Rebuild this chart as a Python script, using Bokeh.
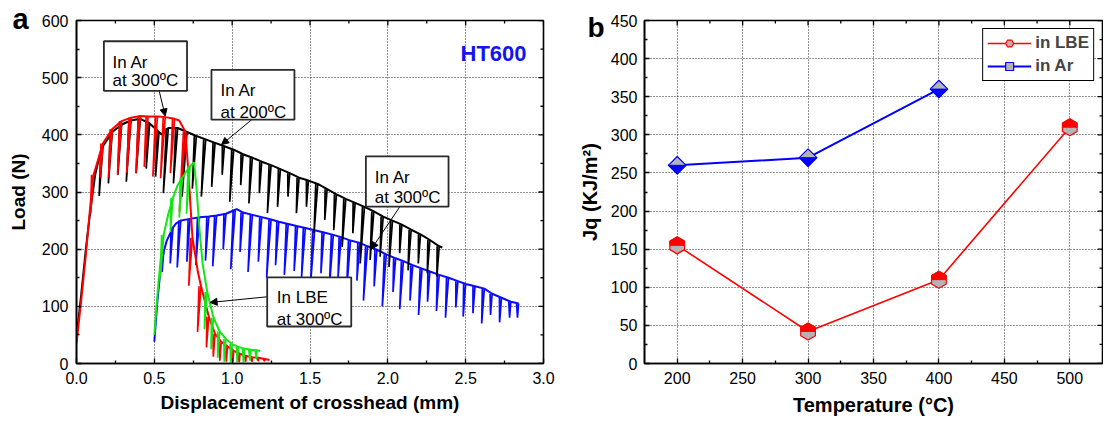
import math
from bokeh.plotting import figure
from bokeh.models import (Range1d, FixedTicker, BoxAnnotation, Label,
                          Arrow, NormalHead, Legend, LegendItem, NumeralTickFormatter)
from bokeh.layouts import row
from bokeh.embed import file_html
from bokeh.resources import INLINE

# ---------------- Panel a data: load vs crosshead displacement ----------------
black_curve_x = [0.0, 0.03, 0.06, 0.09, 0.12, 0.15, 0.55, 2.35]
black_curve_y = [45, 120, 200, 270, 330, 365, 400, 203]
black_tooth_x = [0.17, 0.23, 0.29, 0.35, 0.41, 0.47, 0.53, 0.59, 0.65, 0.71, 0.77, 0.83, 0.89,
                 0.95, 1.01, 1.07, 1.13, 1.19, 1.25, 1.31, 1.37, 1.43, 1.49, 1.55, 1.61, 1.67,
                 1.73, 1.79, 1.85, 1.91, 1.97, 2.03, 2.09, 2.15, 2.21, 2.27, 2.33]
black_tooth_top = [380, 405, 418, 425, 428, 420, 405, 412, 412, 405, 398, 392, 386,
                   380, 374, 366, 360, 353, 347, 340, 333, 325, 320, 314, 305, 296,
                   288, 281, 274, 266, 257, 250, 243, 234, 226, 216, 205]
black_tooth_bot = [293, 315, 330, 318, 333, 341, 327, 298, 315, 292, 306, 292, 309,
                   330, 283, 312, 280, 298, 263, 274, 292, 263, 274, 228, 251, 233,
                   204, 228, 175, 181, 187, 169, 193, 163, 175, 158, 152]

red_curve_x = [0.0, 0.03, 0.06, 0.08, 0.10, 0.66, 0.72, 0.78, 1.24]
red_curve_y = [35, 110, 190, 250, 310, 425, 330, 160, 6]
red_tooth_x = [0.11, 0.17, 0.23, 0.29, 0.35, 0.41, 0.46, 0.52, 0.57, 0.63, 0.70, 0.745,
               0.80, 0.85, 0.89, 0.93, 0.97, 1.01, 1.05, 1.09, 1.13, 1.17, 1.21]
red_tooth_top = [330, 385, 410, 424, 430, 433, 432, 432, 431, 428, 405, 220,
                 135, 82, 52, 38, 30, 22, 17, 13, 11, 10, 8]
red_tooth_bot = [262, 325, 325, 330, 333, 333, 344, 327, 324, 333, 265, 136,
                 55, 28, 12, 5, 3, 2, 2, 3, 3, 4, 4]

green_curve_x = [0.50, 0.52, 0.54, 0.59, 0.65, 0.71, 0.755, 0.77, 0.79, 0.81, 1.18]
green_curve_y = [50, 120, 180, 262, 312, 338, 352, 310, 235, 175, 22]
green_tooth_x = [0.56, 0.62, 0.68, 0.73, 0.84, 0.88, 0.92, 0.96, 1.00, 1.04, 1.08, 1.12, 1.16]
green_tooth_top = [225, 290, 325, 345, 125, 80, 56, 43, 34, 29, 26, 24, 23]
green_tooth_bot = [150, 230, 255, 262, 60, 25, 10, 3, 0, 2, 0, 5, 8]

blue_curve_x = [0.50, 0.52, 0.54, 0.58, 0.64, 1.03]
blue_curve_y = [38, 110, 165, 215, 245, 270]
blue_tooth_x = [0.56, 0.62, 0.67, 0.73, 0.79, 0.85, 0.90, 0.96, 1.02, 1.07, 1.13, 1.19, 1.25,
                1.30, 1.36, 1.42, 1.47, 1.53, 1.59, 1.65, 1.70, 1.76, 1.82, 1.87, 1.93, 1.99,
                2.05, 2.10, 2.16, 2.22, 2.27, 2.33, 2.39, 2.45, 2.50, 2.56, 2.62, 2.67, 2.73,
                2.79, 2.84]
blue_tooth_top = [195, 238, 250, 253, 256, 257, 259, 262, 269, 264, 260, 256, 252,
                  248, 244, 240, 237, 233, 229, 225, 221, 215, 211, 205, 199, 191,
                  184, 179, 172, 166, 161, 155, 150, 144, 139, 135, 131, 122, 115,
                  108, 105]
blue_tooth_bot = [160, 175, 168, 178, 172, 180, 170, 200, 165, 195, 160, 178, 150,
                  172, 155, 162, 150, 140, 158, 135, 150, 122, 145, 110, 135, 100,
                  125, 95, 110, 85, 108, 92, 80, 98, 82, 88, 70, 85, 72,
                  80, 80]

xa_major = [0.0, 0.5, 1.0, 1.5, 2.0, 2.5, 3.0]
xa_minor = [0.25, 0.75, 1.25, 1.75, 2.25, 2.75]
ya_major = [0, 100, 200, 300, 400, 500, 600]
ya_minor = [50, 150, 250, 350, 450, 550]

# ---------------- Panel b data: Jq vs temperature ----------------
temp_lbe = [200, 300, 400, 500]
jq_lbe = [155, 42, 110, 310]
temp_ar = [200, 300, 400]
jq_ar = [260, 270, 360]

xb_major = [200, 250, 300, 350, 400, 450, 500]
xb_minor = [225, 275, 325, 375, 425, 475]
yb_major = [0, 50, 100, 150, 200, 250, 300, 350, 400, 450]
yb_minor = [25, 75, 125, 175, 225, 275, 325, 375, 425]

FONT = "Liberation Sans"
MAJ_LEN, MIN_LEN = 5, 3


def style_axis(ax, major, minor, standoff, fmt=None):
    ax.ticker = FixedTicker(ticks=major, minor_ticks=minor)
    ax.axis_line_color = "black"
    ax.axis_line_width = 1.6
    ax.major_tick_in = MAJ_LEN
    ax.major_tick_out = 0
    ax.minor_tick_in = MIN_LEN
    ax.minor_tick_out = 0
    ax.major_tick_line_width = 1.3
    ax.minor_tick_line_width = 1.3
    ax.major_tick_line_color = "black"
    ax.minor_tick_line_color = "black"
    ax.major_label_text_font = FONT
    ax.major_label_text_color = "black"
    ax.major_label_text_font_size = "16px"
    ax.major_label_standoff = standoff
    if fmt is not None:
        ax.formatter = fmt


def style_label(ax, text, size, standoff):
    ax.axis_label = text
    ax.axis_label_text_font = FONT
    ax.axis_label_text_font_style = "bold"
    ax.axis_label_text_font_size = size
    ax.axis_label_text_color = "black"
    ax.axis_label_standoff = standoff


def make_fig(w, h, xr, yr, bl, br, bt, bb, letter, offset, standoff, size):
    p = figure(width=w, height=h, x_range=xr, y_range=yr, title=letter,
               output_backend="svg", toolbar_location=None,
               min_border_left=bl, min_border_right=br, min_border_top=bt,
               min_border_bottom=bb, background_fill_color="white",
               border_fill_color="white", outline_line_color="black",
               outline_line_width=1.6)
    # panel letter, drawn as the figure title in the top-left corner
    p.title.align = "left"
    p.title.offset = offset
    p.title.standoff = standoff
    p.title.text_font = FONT
    p.title.text_font_size = size
    p.title.text_font_style = "bold"
    p.title.text_color = "black"
    return p


def style_grid(p, xt, yt):
    for g in (p.xgrid[0], p.ygrid[0]):
        g.grid_line_color = "black"
        g.grid_line_dash = "1 2"
        g.grid_line_width = 1
        g.grid_line_alpha = 0.85
    p.xgrid[0].ticker = FixedTicker(ticks=xt)
    p.ygrid[0].ticker = FixedTicker(ticks=yt)


def mirror_ticks(p, x1, y1, dxp, dyp, xmaj, xmin, ymaj, ymin):
    """Inward ticks on the top and right frame edges (no labels)."""
    sx0, sy0, sx1, sy1 = [], [], [], []
    for ticks, ln in ((xmaj, MAJ_LEN), (xmin, MIN_LEN)):
        for t in ticks:
            sx0.append(t); sx1.append(t); sy0.append(y1); sy1.append(y1 - ln * dyp)
    for ticks, ln in ((ymaj, MAJ_LEN), (ymin, MIN_LEN)):
        for t in ticks:
            sy0.append(t); sy1.append(t); sx0.append(x1); sx1.append(x1 - ln * dxp)
    p.segment(sx0, sy0, sx1, sy1, line_color="black", line_width=1.3)


# ================= Panel a =================
FWA, FHA = 467, 343
pa = make_fig(76 + FWA + 32, 20 + FHA + 57, Range1d(0, 3), Range1d(0, 600),
              76, 32, 20, 57, "a", -64, -28, "29px")
style_axis(pa.xaxis[0], xa_major, xa_minor, 8, fmt=NumeralTickFormatter(format="0.0"))
style_axis(pa.yaxis[0], ya_major, ya_minor, 8)
style_label(pa.xaxis[0], "Displacement of crosshead (mm)", "19px", 5)
style_label(pa.yaxis[0], "Load (N)", "19px", 10)
style_grid(pa, xa_major, ya_major)
mirror_ticks(pa, 3, 600, 3 / FWA, 600 / FHA, xa_major, xa_minor, ya_major, ya_minor)

SLANT = 0.00028   # horizontal lean of the unloading lines (mm per N)
GAP = 0.013       # opening of the unloading/reloading loop at the top


def draw_series(p, cx, cy, tx, tt, tb, color):
    pts = sorted(list(zip(cx, cy)) + list(zip(tx, tt)))
    ex = [a for a, _ in pts]
    ey = [b for _, b in pts]
    xs = [[x - GAP, x - SLANT * (t - b), x] for x, t, b in zip(tx, tt, tb)]
    ys = [[t, b, t] for t, b in zip(tt, tb)]
    p.multi_line(xs, ys, line_color=color, line_width=1.7)
    p.line(ex, ey, line_color=color, line_width=2)


draw_series(pa, blue_curve_x, blue_curve_y, blue_tooth_x, blue_tooth_top, blue_tooth_bot, "#0a0aff")
draw_series(pa, black_curve_x, black_curve_y, black_tooth_x, black_tooth_top, black_tooth_bot, "black")
draw_series(pa, red_curve_x, red_curve_y, red_tooth_x, red_tooth_top, red_tooth_bot, "#ff0000")
draw_series(pa, green_curve_x, green_curve_y, green_tooth_x, green_tooth_top, green_tooth_bot, "#14e614")

# arrows
for xs0, ys0, xe, ye in [(0.531, 477, 0.570, 433), (1.126, 426.6, 0.932, 383),
                         (2.077, 274.3, 1.894, 200), (1.225, 116.7, 0.858, 106.7)]:
    pa.add_layout(Arrow(end=NormalHead(size=7, fill_color="black", line_color="black"),
                        x_start=xs0, y_start=ys0, x_end=xe, y_end=ye,
                        line_color="black", line_width=1))

# annotation boxes and texts
boxes = [((0.176, 0.710, 477, 563.7), 0.231, (527, 495), "at 300ºC"),
         ((0.867, 1.40, 426.6, 513.5), 0.925, (477.5, 439.5), "at 200ºC"),
         ((1.859, 2.39, 274.3, 362.4), 1.916, (325.7, 290.5), "at 300ºC"),
         ((1.225, 1.765, 64.7, 150.6), 1.287, (115.4, 77.7), "at 300ºC")]
first_lines = ["In Ar", "In Ar", "In Ar", "In LBE"]
for ((l, r, b, t), tx, (y1, y2), second), first in zip(boxes, first_lines):
    pa.add_layout(BoxAnnotation(left=l, right=r, bottom=b, top=t, fill_color="white",
                                fill_alpha=1, line_color="#2a2a2a", line_alpha=1,
                                line_width=1.8))
    for yy, txt in ((y1, first), (y2, second)):
        pa.add_layout(Label(x=tx, y=yy, text=txt, text_font=FONT, text_font_size="17px",
                            text_color="black", text_baseline="alphabetic", text_align="left"))

pa.add_layout(Label(x=2.467, y=542.7, text="HT600", text_font=FONT, text_font_size="22px",
                    text_font_style="bold", text_color="#1414f0",
                    text_baseline="alphabetic", text_align="left"))

# ================= Panel b =================
FWB, FHB = 465, 345
pb = make_fig(62 + FWB + 1, 18 + FHB + 57, Range1d(175, 525), Range1d(0, 450),
              62, 1, 18, 57, "b", -57, -44, "28px")
style_axis(pb.xaxis[0], xb_major, xb_minor, 8)
style_axis(pb.yaxis[0], yb_major, yb_minor, 7)
style_label(pb.xaxis[0], "Temperature (°C)", "20px", 7)
style_label(pb.yaxis[0], "Jq (KJ/m²)", "20px", 7)
style_grid(pb, xb_major, yb_major)

DX = 350 / FWB   # data units per pixel
DY = 450 / FHB
mirror_ticks(pb, 525, 450, DX, DY, xb_major, xb_minor, yb_major, yb_minor)

GRAY = "#b4b4b4"
lbe_line = pb.line(temp_lbe, jq_lbe, line_color="#ff0000", line_width=1.6)
ar_line = pb.line(temp_ar, jq_ar, line_color="#0000ff", line_width=2)

lbe_sc = pb.scatter(temp_lbe, jq_lbe, marker="hex", size=17, angle=math.pi / 6,
                    fill_color=GRAY, line_color="#ff0000", line_width=1.2)
R = 8.5
C30 = math.cos(math.pi / 6)
hex_top = [(R * C30, 0), (R * C30, R / 2), (0, R), (-R * C30, R / 2), (-R * C30, 0)]
pb.patches([[x + ox * DX for ox, _ in hex_top] for x in temp_lbe],
           [[y + oy * DY for _, oy in hex_top] for y in jq_lbe],
           fill_color="#ff0000", line_color="#ff0000", line_width=1)

ar_sc = pb.scatter(temp_ar, jq_ar, marker="square", size=12.5, angle=math.pi / 4,
                   fill_color=GRAY, line_color="#0000ff", line_width=1.2)
H = 12.5 * math.sqrt(2) / 2
dia_bot = [(-H, 0), (0, -H), (H, 0)]
pb.patches([[x + ox * DX for ox, _ in dia_bot] for x in temp_ar],
           [[y + oy * DY for _, oy in dia_bot] for y in jq_ar],
           fill_color="#0000ff", line_color="#0000ff", line_width=1)

legend = Legend(items=[LegendItem(label="in LBE", renderers=[lbe_line, lbe_sc]),
                       LegendItem(label="in Ar", renderers=[ar_line, ar_sc])],
                location="top_right", border_line_color="black", border_line_width=1.5,
                border_line_alpha=1,
                label_text_font=FONT, label_text_font_style="bold",
                label_text_font_size="17px", glyph_width=44, glyph_height=20,
                label_height=20, padding=4, spacing=3, margin=8, label_standoff=4,
                background_fill_alpha=1)
pb.add_layout(legend)

layout = row(pa, pb)
open("out.html", "w").write(file_html(layout, INLINE))
